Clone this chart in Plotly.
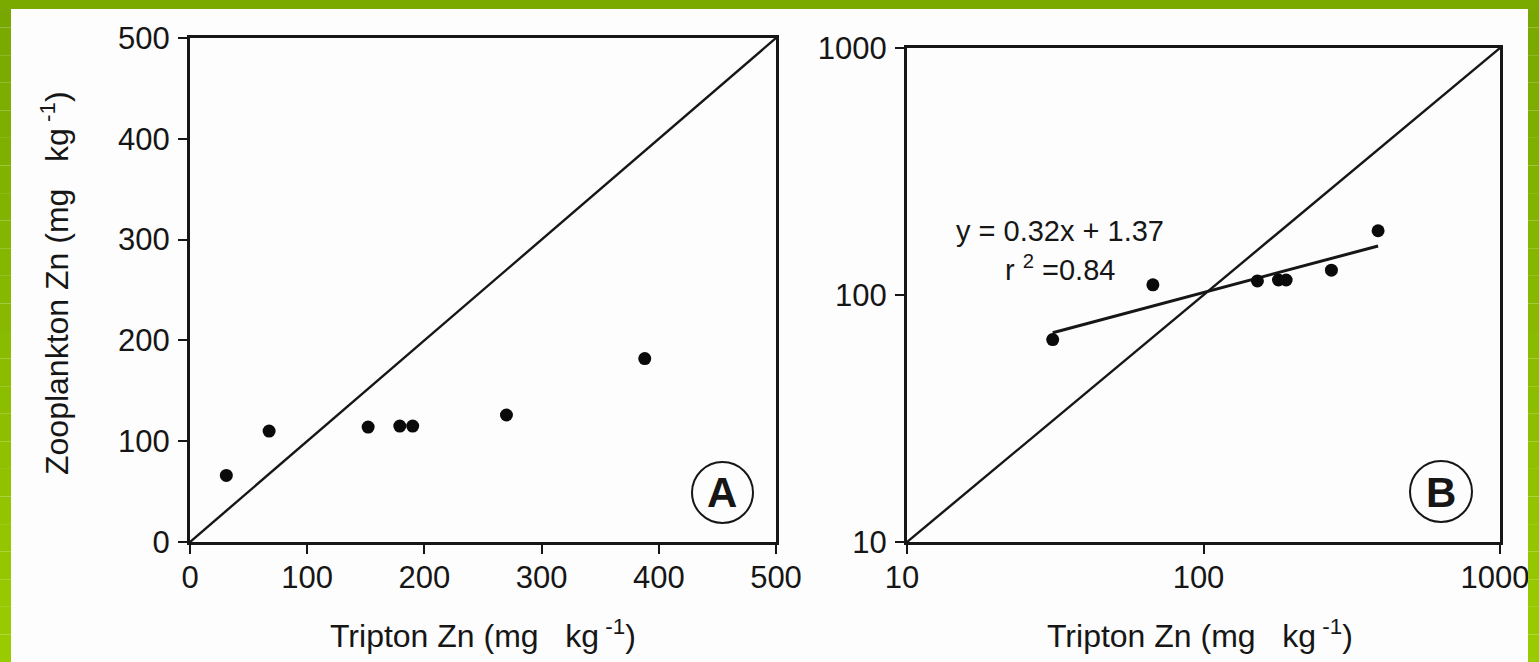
import numpy as np
import plotly.graph_objects as go

# Zinc in tripton vs zooplankton (mg kg-1)
tripton_zn = [31, 67.5, 152, 179, 190, 270, 388]
zooplankton_zn = [66, 110, 114, 115, 115, 126, 182]

# log-log regression: log10(y) = 0.32 log10(x) + 1.37
fit_slope = 0.32
fit_intercept = 1.37
fit_r2 = 0.84

lin_ticks = [0, 100, 200, 300, 400, 500]
log_ticks = [10, 100, 1000]
log_ticktext = ["10", "100", "1000"]

W, H = 1539, 662
FONT = "Liberation Sans, Arial, Helvetica, sans-serif"
INK = "#161616"


def fx(p):
    return p / W


def fy(p):
    return 1 - p / H


fig = go.Figure()

# Panel A: linear axes
fig.add_trace(go.Scatter(x=[lin_ticks[0], lin_ticks[-1]], y=[lin_ticks[0], lin_ticks[-1]],
                         mode="lines", line=dict(color=INK, width=2.4),
                         xaxis="x", yaxis="y", showlegend=False, hoverinfo="skip"))
fig.add_trace(go.Scatter(x=tripton_zn, y=zooplankton_zn, mode="markers",
                         marker=dict(color="#0a0a0a", size=13),
                         xaxis="x", yaxis="y", showlegend=False))

# Panel B: log axes with 1:1 line and regression line
fig.add_trace(go.Scatter(x=[log_ticks[0], log_ticks[-1]], y=[log_ticks[0], log_ticks[-1]],
                         mode="lines", line=dict(color=INK, width=2.4),
                         xaxis="x2", yaxis="y2", showlegend=False, hoverinfo="skip"))
fit_x = np.array([min(tripton_zn), max(tripton_zn)])
fit_y = 10 ** (fit_slope * np.log10(fit_x) + fit_intercept)
fig.add_trace(go.Scatter(x=fit_x, y=fit_y, mode="lines", line=dict(color=INK, width=3),
                         xaxis="x2", yaxis="y2", showlegend=False, hoverinfo="skip"))
fig.add_trace(go.Scatter(x=tripton_zn, y=zooplankton_zn, mode="markers",
                         marker=dict(color="#0a0a0a", size=13),
                         xaxis="x2", yaxis="y2", showlegend=False))

axis_style = dict(showline=True, linecolor=INK, linewidth=3, mirror=True,
                  ticks="outside", ticklen=9, tickwidth=2.2, tickcolor=INK,
                  showgrid=False, zeroline=False, automargin=False,
                  tickfont=dict(family=FONT, size=31, color=INK))

fig.update_layout(
    width=W, height=H,
    margin=dict(l=0, r=0, t=0, b=0, autoexpand=False),
    paper_bgcolor="#fdfdfd",
    plot_bgcolor="rgba(0,0,0,0)",
    xaxis=dict(domain=[fx(190), fx(776)], range=[0, 500], tickvals=lin_ticks,
               anchor="y", ticklabelstandoff=-3, **axis_style),
    yaxis=dict(domain=[fy(542), fy(38)], range=[0, 500], tickvals=lin_ticks,
               anchor="x", ticklabelstandoff=2, **axis_style),
    xaxis2=dict(domain=[fx(907), fx(1500)], type="log", range=[1, 3],
                tickvals=log_ticks, ticktext=log_ticktext,
                anchor="y2", ticklabelstandoff=-3, ticklabelshift=-5, **axis_style),
    yaxis2=dict(domain=[fy(542), fy(48)], type="log", range=[1, 3],
                tickvals=log_ticks, ticktext=log_ticktext,
                anchor="x2", ticklabelstandoff=2, **axis_style),
)

nb = "\u00a0"
unit = f"(mg{nb}{nb}{nb}kg<sup>{nb}-1</sup>)"


def label(text, x, y, size=29, **kw):
    return dict(text=text, x=fx(x), y=fy(y), xref="paper", yref="paper",
                xanchor="center", yanchor="middle", showarrow=False,
                font=dict(family=FONT, size=size, color=INK), **kw)


annotations = [
    label(f"Tripton Zn {unit}", 483, 634, size=32),
    label(f"Tripton Zn {unit}", 1200, 634, size=32),
    label(f"Zooplankton Zn {unit}", 55, 283, size=32, textangle=-90),
    label(f"y = {fit_slope:.2f}x + {fit_intercept:.2f}", 1060, 231),
    label(f"r{nb}<sup>2</sup>{nb}={fit_r2:.2f}", 1060, 268),
    label("<b>A</b>", 722, 492, size=42),
    label("<b>B</b>", 1441, 492, size=42),
]
fig.update_layout(annotations=annotations)

shapes = [
    dict(type="circle", xref="x domain", yref="y domain",
         x0=(692 - 190) / 586, x1=(753 - 190) / 586,
         y0=(542 - 523) / 504, y1=(542 - 462) / 504,
         line=dict(color=INK, width=2)),
    dict(type="circle", xref="x2 domain", yref="y2 domain",
         x0=(1410 - 907) / 593, x1=(1472 - 907) / 593,
         y0=(542 - 522) / 494, y1=(542 - 461) / 494,
         line=dict(color=INK, width=2)),
]

# green frame around the page, shading from olive at the top to lime at the bottom
top_rgb = np.array([0x78, 0xa8, 0x00])
bot_rgb = np.array([0x9a, 0xcd, 0x00])
bands = 24
for i in range(bands):
    t = (i + 0.5) / bands
    c = (top_rgb * (1 - t) + bot_rgb * t).astype(int)
    col = f"rgb({c[0]},{c[1]},{c[2]})"
    y1 = 1 - i / bands
    y0 = 1 - (i + 1) / bands
    for xa, xb in [(0, fx(11)), (fx(1528), 1)]:
        shapes.append(dict(type="rect", xref="paper", yref="paper", x0=xa, x1=xb,
                           y0=y0, y1=y1, fillcolor=col, line=dict(width=0), layer="above"))
shapes.append(dict(type="rect", xref="paper", yref="paper", x0=0, x1=1, y0=fy(9), y1=1,
                   fillcolor="rgb(122,170,0)", line=dict(width=0), layer="above"))
fig.update_layout(shapes=shapes)

fig.write_html("out.html")
